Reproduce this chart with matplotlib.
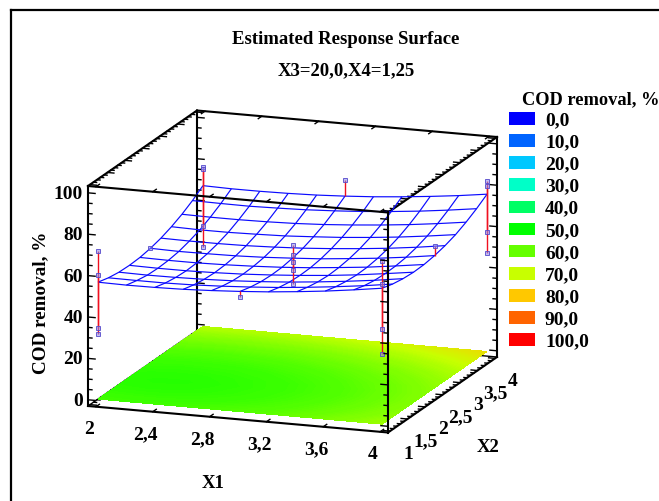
import numpy as np
import matplotlib
matplotlib.use("Agg")
import matplotlib.pyplot as plt
from matplotlib.colors import LinearSegmentedColormap, Normalize
from matplotlib.lines import Line2D
from matplotlib.patches import Patch

plt.rcParams['font.family'] = ['Liberation Serif', 'DejaVu Serif']
plt.rcParams['font.weight'] = 'bold'

# ---- data ----
x1_grid = [2.0, 2.2, 2.4, 2.6, 2.8, 3.0, 3.2, 3.4, 3.6, 3.8, 4.0]
x2_grid = [1.0, 1.3, 1.6, 1.9, 2.2, 2.5, 2.8, 3.1, 3.4, 3.7, 4.0]
cod_surface = [
    [56.5, 56.3, 56.4, 56.7, 57.3, 58.1, 59.1, 60.4, 61.9, 63.7, 65.7],
    [55.1, 55.0, 55.0, 55.3, 55.9, 56.7, 57.7, 59.0, 60.5, 62.2, 64.2],
    [54.3, 54.1, 54.2, 54.5, 55.0, 55.8, 56.8, 58.1, 59.6, 61.3, 63.3],
    [54.1, 53.9, 53.9, 54.2, 54.7, 55.5, 56.5, 57.7, 59.2, 61.0, 62.9],
    [54.4, 54.2, 54.2, 54.5, 55.0, 55.7, 56.7, 58.0, 59.4, 61.2, 63.1],
    [55.3, 55.0, 55.1, 55.3, 55.8, 56.6, 57.5, 58.8, 60.2, 61.9, 63.9],
    [56.7, 56.5, 56.5, 56.7, 57.2, 57.9, 58.9, 60.1, 61.5, 63.2, 65.2],
    [58.7, 58.4, 58.4, 58.7, 59.1, 59.9, 60.8, 62.0, 63.4, 65.1, 67.0],
    [61.2, 61.0, 61.0, 61.2, 61.6, 62.3, 63.3, 64.5, 65.9, 67.6, 69.5],
    [64.3, 64.1, 64.0, 64.3, 64.7, 65.4, 66.3, 67.5, 68.9, 70.6, 72.5],
    [68.0, 67.7, 67.7, 67.9, 68.3, 69.0, 69.9, 71.1, 72.5, 74.1, 76.0],
]
obs_x1 = [2, 2, 2, 2, 2, 2, 2, 2, 2, 3, 3, 3, 3, 3, 3, 3, 4, 4, 4, 4, 4, 4, 4, 4, 4]
obs_x2 = [1, 1, 1, 1, 4, 4, 4, 4, 2.5, 1, 2.5, 2.5, 2.5, 2.5, 2.5, 4,
          1, 1, 1, 1, 2.5, 4, 4, 4, 4]
obs_cod = [71.6, 59.9, 34.3, 31.4, 77.1, 75.8, 48.5, 38.3, 55.6, 55.2,
           63.0, 58.2, 54.8, 51.0, 44.0, 76.6,
           78.9, 67.6, 45.9, 33.7, 68.3, 82.6, 79.9, 57.7, 47.7]
legend_levels = ['0,0', '10,0', '20,0', '30,0', '40,0', '50,0', '60,0', '70,0', '80,0', '90,0', '100,0']
legend_colors = ['#0000ff', '#0064ff', '#00c8ff', '#00ffc8', '#00ff64', '#00ff00',
                 '#64ff00', '#c8ff00', '#ffc800', '#ff6400', '#ff0000']
x1_ticks = [2, 2.4, 2.8, 3.2, 3.6, 4]
x1_labels = ['2', '2,4', '2,8', '3,2', '3,6', '4']
x2_ticks = [1, 1.5, 2, 2.5, 3, 3.5, 4]
x2_labels = ['1', '1,5', '2', '2,5', '3', '3,5', '4']
cod_ticks = [0, 20, 40, 60, 80, 100]

# ---- box limits and its axonometric projection (image pixels) ----
XLIM = (1.944, 4.056)
YLIM = (0.943, 4.057)
ZLIM = (-3.0, 103.3)
W, H = 659, 501
ORIGIN = np.array([88.0, 406.0])
EX, EY, EZ = np.array([300.0, 26.5]), np.array([109.0, -75.5]), np.array([0.0, -220.0])

fig = plt.figure(figsize=(W / 100, H / 100), dpi=100, facecolor='white')
ax = fig.add_axes([0, 0, 1, 1], projection='3d', computed_zorder=False)
ax.set_proj_type('ortho')
ax.set_axis_off()


def pix(x, y, z):
    """Image-pixel position of a data point."""
    return (ORIGIN
            + EX * (x - XLIM[0]) / (XLIM[1] - XLIM[0])
            + EY * (y - YLIM[0]) / (YLIM[1] - YLIM[0])
            + EZ * (z - ZLIM[0]) / (ZLIM[1] - ZLIM[0]))


def fixed_proj():
    inv = ax.transData.inverted()
    dx, dy, dz = XLIM[1] - XLIM[0], YLIM[1] - YLIM[0], ZLIM[1] - ZLIM[0]

    def disp(p):
        return inv.transform((p[0], H - p[1]))
    o = disp(ORIGIN)
    vx = (disp(ORIGIN + EX) - o) / dx
    vy = (disp(ORIGIN + EY) - o) / dy
    vz = (disp(ORIGIN + EZ) - o) / dz
    r0 = np.array([vx[0], vy[0], vz[0]])
    r1 = np.array([vx[1], vy[1], vz[1]])
    r2 = np.cross(r0, r1)
    r2 = r2 / np.linalg.norm(r2) * 0.01
    lo = np.array([XLIM[0], YLIM[0], ZLIM[0]])
    M = np.eye(4)
    M[0, :3], M[1, :3], M[2, :3] = r0, r1, r2
    M[0, 3] = o[0] - r0 @ lo
    M[1, 3] = o[1] - r1 @ lo
    M[2, 3] = -r2 @ lo
    return M


ax.get_proj = fixed_proj

cmap = LinearSegmentedColormap.from_list('cod', legend_colors)
norm = Normalize(0, 100)
X, Y = np.meshgrid(x1_grid, x2_grid)
Z = np.array(cod_surface)
BOX = dict(color='black', solid_capstyle='projecting')


def seg(a, b, lw=1.5, z=1):
    ax.plot([a[0], b[0]], [a[1], b[1]], [a[2], b[2]], lw=lw, zorder=z, **BOX)


x0, x1 = XLIM
y0, y1 = YLIM
z0, z1 = ZLIM

# back and bottom edges, under the floor
seg((x0, y0, z0), (x0, y1, z0), 1.0, 1)
seg((x0, y1, z0), (x1, y1, z0), 1.0, 1)
seg((x1, y0, z0), (x1, y1, z0), 1.5, 1)
seg((x0, y1, z0), (x0, y1, z1), 1.5, 1)
seg((x1, y1, z0), (x1, y1, z1), 1.5, 1)
seg((x0, y1, z1), (x1, y1, z1), 1.5, 1)
seg((x0, y0, z1), (x0, y1, z1), 1.5, 1)
seg((x1, y0, z1), (x1, y1, z1), 1.5, 1)

# tick marks on the depth edges
for v in np.arange(10, 41) / 10:
    L = 0.045 if abs(v * 2 - round(v * 2)) < 1e-6 else 0.022
    seg((x1, v, z0), (x1 - L, v, z0), 1.0, 1)
    seg((x1, v, z1), (x1 - L, v, z1), 1.0, 1)
    seg((x0, v, z1), (x0 + L, v, z1), 1.0, 1)
    seg((x0, v, z0), (x0 + L, v, z0), 1.0, 1)

# tick marks on the verticals
for v in range(0, 105, 5):
    L = 0.05 if v % 20 == 0 else 0.028
    seg((x0, y0, v), (x0 + L, y0, v), 1.0, 1)
    seg((x0, y1, v), (x0 + L, y1, v), 1.0, 1)
    seg((x1, y1, v), (x1 - L, y1, v), 1.0, 1)
    seg((x1, y0, v), (x1 - L, y0, v), 1.0, 6)

# tick marks on the width edges
for v in x1_ticks:
    seg((v, y0, z0), (v, y0 + 0.1, z0), 1.0, 1)
    seg((v, y0, z1), (v, y0 + 0.1, z1), 1.0, 6)
    seg((v, y1, z1), (v, y1 - 0.1, z1), 1.0, 1)

# floor: the surface's colours
levels = np.linspace(50, 80, 91)
cs = ax.contourf(X, Y, Z, levels=levels, cmap=cmap, norm=norm, zdir='z', offset=0,
                 zorder=2, antialiased=False)

# wire mesh
ax.plot_wireframe(X, Y, Z, rstride=1, cstride=1, color='#0a0aff', linewidth=0.85, zorder=3)

# observations with their residual stems
for xo, yo, zo in zip(obs_x1, obs_x2, obs_cod):
    fit = Z[x2_grid.index(yo), x1_grid.index(float(xo))]
    ax.plot([xo, xo], [yo, yo], [zo, fit], color='#f01020', lw=1.0, zorder=4,
            solid_capstyle='butt')
ax.plot(obs_x1, obs_x2, obs_cod, ls='none', marker='s', ms=3.0, mew=0.7,
        mfc=(0.55, 0.55, 0.95, 0.55), mec=(0.35, 0.3, 0.8, 0.9), zorder=5)

# front edges
seg((x0, y0, z0), (x1, y0, z0), 1.5, 6)
seg((x0, y0, z0), (x0, y0, z1), 1.5, 6)
seg((x1, y0, z0), (x1, y0, z1), 1.5, 6)
seg((x0, y0, z1), (x1, y0, z1), 1.5, 6)

ax.set_xlim(XLIM)
ax.set_ylim(YLIM)
ax.set_zlim(ZLIM)


def ftext(px, py, s, ha='center', **kw):
    fig.text(px / W, 1 - py / H, s, ha=ha, va='center', **kw)


# tick labels
TICK_FS = 14
for v in cod_ticks:
    px, py = pix(x0, y0, v)
    ftext(px - 5, py + 1.5, str(v), ha='right', fontsize=TICK_FS)
for v, s in zip(x1_ticks, x1_labels):
    px, py = pix(v, y0, z0)
    ftext(px - 7, py + 23, s, fontsize=TICK_FS)
for v, s in zip(x2_ticks, x2_labels):
    px, py = pix(x1, v, z0)
    ftext(px + 18, py + 23, s, fontsize=TICK_FS)

# axis names and titles
ftext(213, 483, 'X1', fontsize=13.5)
ftext(488, 447, 'X2', fontsize=13.5)
ftext(41, 303, 'COD removal, %', fontsize=13.8, rotation=90)
ftext(346, 39.5, 'Estimated Response Surface', fontsize=13.5)
ftext(346, 71, 'X3=20,0,X4=1,25', fontsize=13.5)

# legend
ftext(590.5, 99.5, 'COD removal, %', fontsize=13.2)
handles = [Patch(facecolor=c, edgecolor='none', label=s) for c, s in zip(legend_colors, legend_levels)]
leg = fig.legend(handles=handles, frameon=False, fontsize=14,
                 loc='upper left', bbox_to_anchor=(509 / W, 1 - 112 / H),
                 borderaxespad=0, borderpad=0, handlelength=1.34, handleheight=0.62,
                 handletextpad=0.51, labelspacing=0.257)

# page frame
fig.add_artist(Line2D([11 / W, 1], [1 - 10 / H, 1 - 10 / H], color='black', lw=1.6))
fig.add_artist(Line2D([11 / W, 11 / W], [0, 1 - 10 / H], color='black', lw=1.6))

fig.savefig('out.png', dpi=100)
